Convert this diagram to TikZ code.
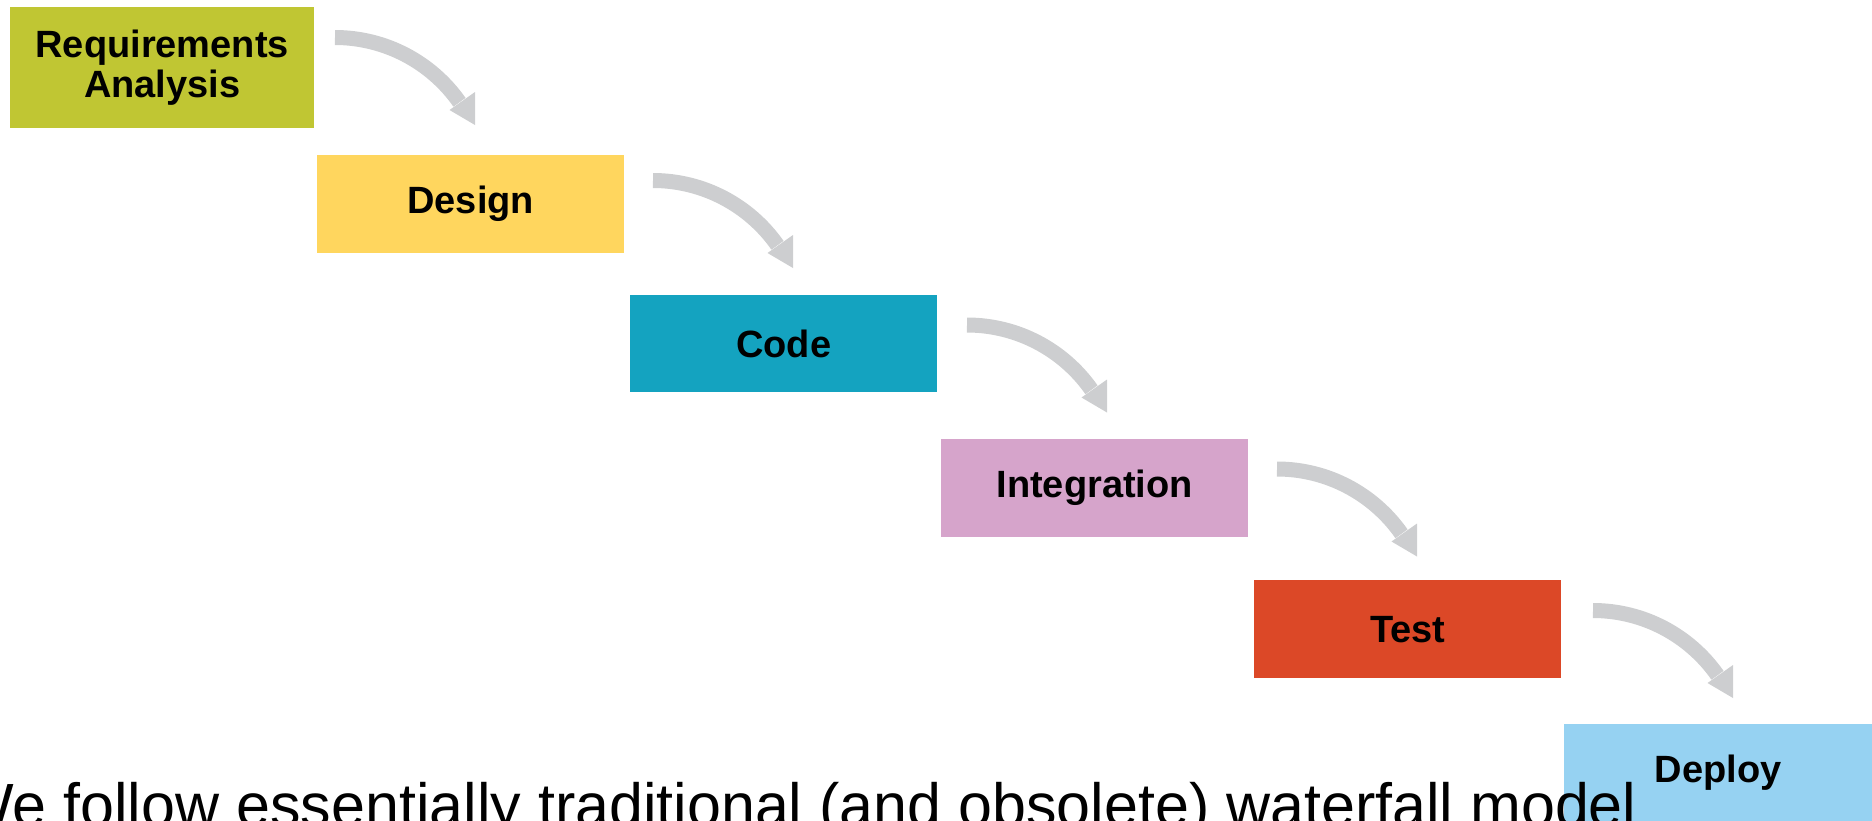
\documentclass[tikz,border=0pt]{standalone}
\usepackage{fontspec}
\setmainfont{Liberation Sans}
\usetikzlibrary{calc}

\definecolor{reqc}{RGB}{192,198,51}
\definecolor{desc}{RGB}{255,214,94}
\definecolor{codc}{RGB}{20,163,192}
\definecolor{intc}{RGB}{214,164,203}
\definecolor{tstc}{RGB}{220,72,39}
\definecolor{depc}{RGB}{150,210,242}
\definecolor{flowc}{RGB}{205,206,208}

\tikzset{
  stage/.style={anchor=north west, inner sep=0pt, draw=none,
    minimum width=307pt, minimum height=98pt, align=center,
    font=\fontsize{38}{40}\selectfont\bfseries},
  flowband/.style={draw=flowc, line width=15pt, line cap=butt},
  flowhead/.style={fill=flowc, draw=none},
}

% curved grey arrow starting at a named coordinate
\newcommand\flowarrow[1]{%
  \draw[flowband] (#1) .. controls ($(#1)+(49.6,0)$) and ($(#1)+(96,24.2)$) .. ($(#1)+(124.5,64.8)$);
  \fill[flowhead] ($(#1)+(114.5,72.5)$) -- ($(#1)+(140,54.5)$) -- ($(#1)+(140,87.5)$) -- cycle;
}

\begin{document}
\begin{tikzpicture}[x=1pt,y=-1pt]
  \useasboundingbox (0,0) rectangle (1872,820);
  \clip (0,0) rectangle (1872,820);

  % process stages
  \node[stage, fill=reqc, minimum width=304pt, minimum height=121pt] (req) at (10,7) {Requirements\\Analysis};
  \node[stage, fill=desc] (des) at (317,155) {Design};
  \node[stage, fill=codc, minimum height=97pt] (cod) at (630,295) {Code};
  \node[stage, fill=intc] (int) at (941,439) {Integration};
  \node[stage, fill=tstc] (tst) at (1254,580) {Test};
  \node[stage, fill=depc, minimum width=308pt, minimum height=97pt] (dep) at (1564,724) {Deploy};

  % arrow starting points
  \coordinate (f1) at (335,37.5);
  \coordinate (f2) at (653,180.5);
  \coordinate (f3) at (967,325);
  \coordinate (f4) at (1277,469);
  \coordinate (f5) at (1593,610.5);

  \flowarrow{f1}
  \flowarrow{f2}
  \flowarrow{f3}
  \flowarrow{f4}
  \flowarrow{f5}

  % caption line
  \node[anchor=base west, inner sep=0pt, font=\fontsize{61}{70}\selectfont] (cap) at (-44,826)
    {We follow essentially traditional (and obsolete) waterfall model};
\end{tikzpicture}
\end{document}
